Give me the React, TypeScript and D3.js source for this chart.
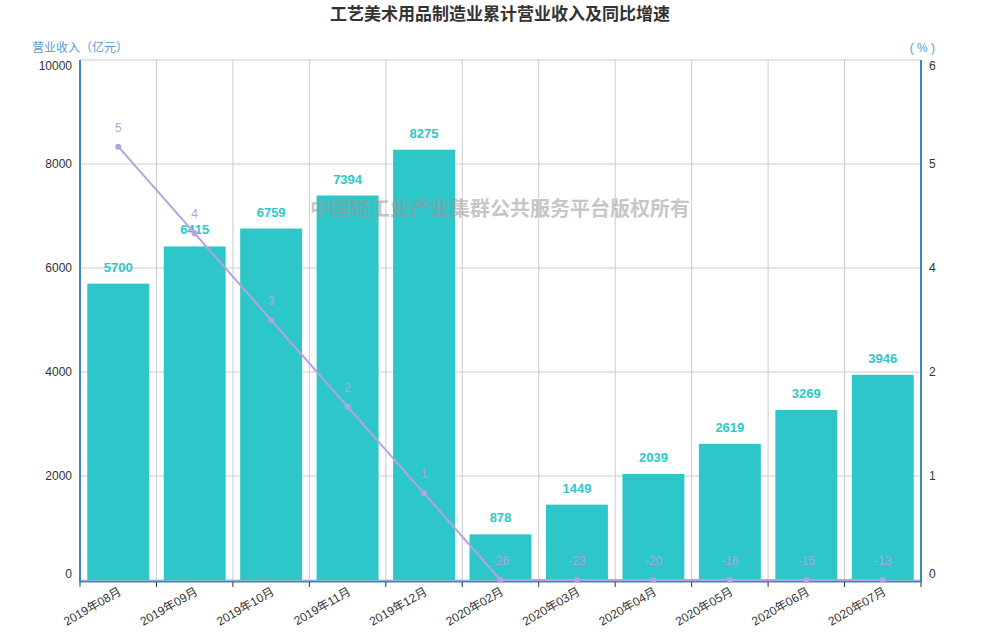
import * as d3 from 'd3';

const months = [
  '2019年08月', '2019年09月', '2019年10月', '2019年11月', '2019年12月',
  '2020年02月', '2020年03月', '2020年04月', '2020年05月', '2020年06月', '2020年07月',
];
const revenue = [5700, 6415, 6759, 7394, 8275, 878, 1449, 2039, 2619, 3269, 3946];
const growth = [5, 4, 3, 2, 1, -26, -23, -20, -16, -15, -13];
const leftTicks = [0, 2000, 4000, 6000, 8000, 10000];
// right axis splits into the same 5 intervals as the left one, labels rounded
const rightTicks = [0, 1.2, 2.4, 3.6, 4.8, 6];

const W = 1000, H = 640;
const margin = { top: 60, right: 79, bottom: 60, left: 80 };
const BAR = '#2EC7C9';
const LINE = '#B6A2DE';
const AXIS = '#3E85C1';
const FONT = '"Liberation Sans", Arial, "Noto Sans CJK SC", sans-serif';

export default function App() {
  const x = d3.scaleBand<string>().domain(months)
    .range([margin.left, W - margin.right]).paddingInner(0.19).paddingOuter(0.095);
  const yL = d3.scaleLinear().domain([0, 10000]).range([H - margin.bottom, margin.top]);
  // negative growth is pinned to the axis floor, like the original
  const yR = d3.scaleLinear().domain([0, 6]).range([H - margin.bottom, margin.top]).clamp(true);
  const step = x.step();
  const bottom = H - margin.bottom;
  const cx = (m: string) => (x(m) ?? 0) + x.bandwidth() / 2;
  const fmtR = d3.format('.0f');

  const line = d3.line<number>()
    .x((_, i) => cx(months[i]))
    .y((d) => yR(d));

  const bounds = d3.range(months.length + 1).map((i) => margin.left + i * step);
  const labelY = (i: number, n: number) => (i === 0 ? -6 : i === n - 1 ? 6 : 0);

  return (
    <svg width={W} height={H} style={{ position: 'absolute', left: 0, top: 0, fontFamily: FONT }}>
      <rect width={W} height={H} fill="#fff" />
      <text x={W / 2} y={20} textAnchor="middle" fontSize={17} fontWeight="bold" fill="#333"
        style={{ fontFamily: '"Noto Sans CJK SC", sans-serif' }}>工艺美术用品制造业累计营业收入及同比增速</text>

      {/* grid */}
      {leftTicks.map((t) => (
        <line key={'h' + t} x1={margin.left} x2={W - margin.right} y1={yL(t)} y2={yL(t)} stroke="#ccc" />
      ))}
      {bounds.map((b, i) => (
        <line key={'v' + i} x1={b} x2={b} y1={margin.top} y2={bottom} stroke="#ccc" />
      ))}

      {/* bars */}
      {revenue.map((v, i) => (
        <rect key={'b' + i} x={x(months[i])} y={yL(v)} width={x.bandwidth()} height={bottom - yL(v)} fill={BAR} />
      ))}

      {/* watermark */}
      <text x={500} y={216} textAnchor="middle" fontSize={20} fontWeight="bold" fill="#999" opacity={0.55}
        style={{ fontFamily: '"Noto Sans CJK SC", sans-serif' }}>中国轻工业产业集群公共服务平台版权所有</text>

      {/* bar labels */}
      {revenue.map((v, i) => (
        <text key={'bl' + i} x={cx(months[i])} y={yL(v) - 12} textAnchor="middle" fontSize={13}
          fontWeight="bold" fill={BAR}>{v}</text>
      ))}

      {/* axes */}
      <line x1={margin.left} x2={margin.left} y1={margin.top} y2={bottom + 2} stroke={AXIS} strokeWidth={2} />
      <line x1={W - margin.right} x2={W - margin.right} y1={margin.top} y2={bottom + 2} stroke={AXIS} strokeWidth={2} />
      <line x1={margin.left} x2={W - margin.right} y1={bottom + 1.5} y2={bottom + 1.5} stroke={AXIS} strokeWidth={2} />
      {bounds.map((b, i) => (
        <line key={'t' + i} x1={b} x2={b} y1={bottom + 2} y2={bottom + 7} stroke="#333" />
      ))}

      {/* line */}
      <path d={line(growth) ?? ''} fill="none" stroke={LINE} strokeWidth={2} />
      {growth.map((v, i) => (
        <g key={'p' + i}>
          <circle cx={cx(months[i])} cy={yR(v)} r={3} fill={LINE} />
          <text x={cx(months[i])} y={yR(v) - 15} textAnchor="middle" fontSize={12} fill={LINE}>{v}</text>
        </g>
      ))}

      {leftTicks.map((t, i) => (
        <text key={'lt' + t} x={margin.left - 8} y={yL(t) + labelY(i, leftTicks.length)} dy="0.35em"
          textAnchor="end" fontSize={12} fill="#333">{t}</text>
      ))}
      {rightTicks.map((t, i) => (
        <text key={'rt' + t} x={W - margin.right + 8} y={yR(t) + labelY(i, rightTicks.length)} dy="0.35em"
          textAnchor="start" fontSize={12} fill="#333">{fmtR(t)}</text>
      ))}

      {months.map((m) => (
        <text key={'xl' + m} transform={`translate(${cx(m) + 4},${bottom + 14}) rotate(-30)`}
          textAnchor="end" fontSize={12} fill="#333">{m}</text>
      ))}

      <text x={32} y={52} fontSize={12} fill="#5B9BD5" style={{ fontFamily: '"Noto Sans CJK SC", sans-serif' }}>营业收入（亿元）</text>
      <text x={935} y={52} textAnchor="end" fontSize={12} fill="#5B9BD5">( % )</text>
    </svg>
  );
}
